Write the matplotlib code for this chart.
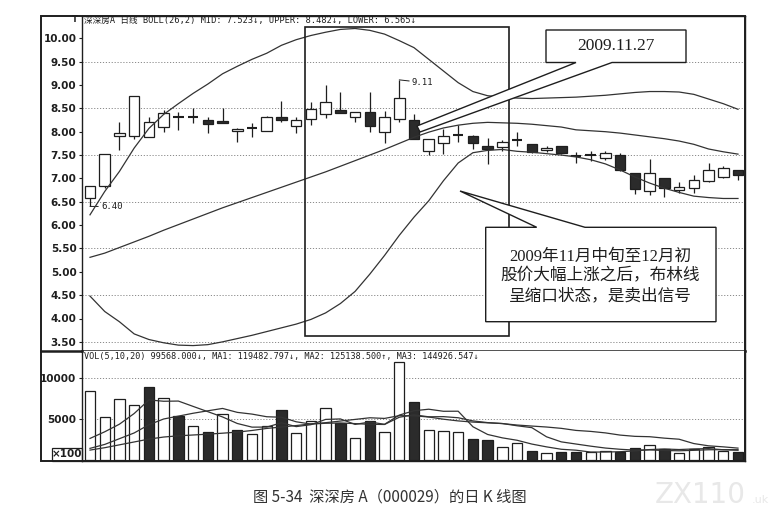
import matplotlib
matplotlib.use('Agg')
import matplotlib.pyplot as plt
from matplotlib.patches import Rectangle, Polygon
from matplotlib.lines import Line2D

# ---------------- data ----------------
opens  = [6.58, 6.84, 7.90, 7.91, 7.88, 8.11, 8.30, 8.31, 8.25, 8.23,
          8.02, 8.06, 8.02, 8.31, 8.12, 8.28, 8.37, 8.46, 8.31, 8.43,
          8.00, 8.27, 8.26, 7.59, 7.76, 7.93, 7.91, 7.70, 7.67, 7.81,
          7.73, 7.61, 7.69, 7.50, 7.49, 7.43, 7.50, 7.11, 6.73, 7.00,
          6.75, 6.79, 6.94, 7.04, 7.18]
highs  = [6.84, 7.52, 8.21, 8.76, 8.31, 8.47, 8.43, 8.50, 8.32, 8.50,
          8.07, 8.18, 8.33, 8.66, 8.32, 8.64, 9.00, 8.86, 8.43, 8.86,
          8.45, 9.11, 8.37, 7.85, 8.05, 8.14, 7.92, 7.86, 7.82, 8.00,
          7.74, 7.70, 7.70, 7.57, 7.59, 7.59, 7.54, 7.12, 7.41, 7.01,
          6.93, 7.07, 7.32, 7.27, 7.19]
lows   = [6.40, 6.79, 7.61, 7.84, 7.88, 8.00, 8.04, 8.19, 7.97, 8.18,
          7.79, 7.89, 8.01, 8.20, 7.97, 8.14, 8.30, 8.39, 8.20, 8.00,
          7.76, 8.21, 7.84, 7.50, 7.52, 7.79, 7.64, 7.31, 7.59, 7.69,
          7.55, 7.57, 7.53, 7.32, 7.38, 7.39, 7.16, 6.67, 6.64, 6.61,
          6.69, 6.68, 6.93, 7.00, 6.97]
closes = [6.83, 7.52, 7.98, 8.76, 8.20, 8.41, 8.31, 8.32, 8.17, 8.19,
          8.06, 8.07, 8.32, 8.24, 8.25, 8.48, 8.64, 8.41, 8.43, 8.12,
          8.31, 8.72, 7.84, 7.85, 7.91, 7.94, 7.76, 7.63, 7.78, 7.82,
          7.57, 7.66, 7.54, 7.49, 7.50, 7.54, 7.18, 6.77, 7.11, 6.79,
          6.82, 6.97, 7.17, 7.22, 7.07]
# volume in units of 100 shares
volumes = [8415, 5280, 7400, 6670, 8870, 7600, 5400, 4150, 3450, 5650,
           3620, 3170, 4180, 6060, 3330, 4800, 6380, 4470, 2720, 4800,
           3410, 11990, 7110, 3660, 3540, 3450, 2520, 2400, 1590, 2070,
           1140, 810, 940, 1020, 940, 1140, 1020, 1420, 1830, 1300,
           810, 1380, 1620, 1140, 996]
boll_upper = [6.22, 6.72, 7.15, 7.65, 8.07, 8.37, 8.60, 8.82, 9.02, 9.24,
              9.40, 9.55, 9.68, 9.85, 9.97, 10.06, 10.13, 10.19, 10.21, 10.17,
              10.09, 9.95, 9.80, 9.55, 9.30, 9.05, 8.86, 8.77, 8.74, 8.72,
              8.71, 8.72, 8.73, 8.74, 8.76, 8.78, 8.81, 8.84, 8.86, 8.86,
              8.85, 8.80, 8.70, 8.60, 8.48]
boll_mid = [5.31, 5.40, 5.52, 5.64, 5.76, 5.89, 6.01, 6.13, 6.25, 6.37,
            6.48, 6.59, 6.70, 6.81, 6.92, 7.03, 7.14, 7.26, 7.38, 7.50,
            7.62, 7.75, 7.88, 7.99, 8.08, 8.14, 8.18, 8.20, 8.19, 8.18,
            8.16, 8.13, 8.10, 8.04, 8.02, 8.00, 7.97, 7.93, 7.89, 7.85,
            7.80, 7.73, 7.63, 7.57, 7.52]
boll_lower = [4.48, 4.15, 3.93, 3.67, 3.55, 3.48, 3.43, 3.42, 3.44, 3.50,
              3.57, 3.64, 3.72, 3.80, 3.88, 3.98, 4.12, 4.32, 4.58, 4.95,
              5.35, 5.78, 6.17, 6.52, 6.95, 7.33, 7.55, 7.60, 7.62, 7.58,
              7.56, 7.53, 7.50, 7.46, 7.40, 7.31, 7.18, 7.03, 6.90, 6.79,
              6.70, 6.62, 6.59, 6.57, 6.57]
vol_ma5 = [2630, 3440, 4370, 5670, 7327, 7164, 7188, 6538, 5894, 5250,
           4454, 4008, 4014, 4536, 4072, 4308, 4950, 5008, 4340, 4634,
           4356, 5478, 6006, 6194, 5942, 5950, 4056, 3114, 2700, 2406,
           1944, 1602, 1310, 1196, 970, 970, 1012, 1108, 1270, 1342,
           1276, 1348, 1388, 1250, 1195]
vol_ma10 = [1420, 1900, 2600, 3300, 4300, 5000, 5350, 5700, 6000, 6289,
            5809, 5598, 5276, 5215, 4661, 4381, 4479, 4511, 4438, 4353,
            4332, 5214, 5507, 5267, 5288, 5153, 4767, 4560, 4447, 4174,
            3947, 2829, 2212, 1948, 1688, 1457, 1307, 1209, 1233, 1156,
            1123, 1180, 1248, 1260, 1251]
vol_ma20 = [1210, 1500, 1850, 2200, 2550, 2800, 2950, 3050, 3150, 3270,
            3400, 3600, 3850, 4020, 4200, 4400, 4550, 4750, 4950, 5150,
            5071, 5406, 5392, 5241, 4975, 4767, 4623, 4536, 4443, 4264,
            4140, 4022, 3860, 3608, 3488, 3305, 3037, 2885, 2840, 2665,
            2535, 2005, 1730, 1604, 1449]
price_ticks = [3.5, 4.0, 4.5, 5.0, 5.5, 6.0, 6.5, 7.0, 7.5, 8.0, 8.5, 9.0, 9.5, 10.0]
price_grid = [3.5, 4.5, 5.5, 6.5, 7.5, 8.5, 9.5]
vol_ticks = [5000, 10000]
price_header = "深深房A 日线 BOLL(26,2) MID: 7.523↓, UPPER: 8.482↓, LOWER: 6.565↓"
vol_header = "VOL(5,10,20) 99568.000↓, MA1: 119482.797↓, MA2: 125138.500↑, MA3: 144926.547↓"
callout1 = "2009.11.27"
callout2 = ["2009年11月中旬至12月初", "股价大幅上涨之后，布林线", "呈缩口状态，是卖出信号"]
caption = "图 5-34  深深房 A（000029）的日 K 线图"
high_label = "9.11"
low_label = "6.40"

# ---------------- layout helpers (pixel geometry) ----------------
W, H = 778, 522
INK = '#1e1e1e'
DARK = '#2b2b2b'
LINE = '#333333'
GRID = '#8a8a8a'

def fx(px):
    return px / W

def fy(py):
    return 1 - py / H

def px2x(px):
    return (px - 90) / 14.727

def py2p(py):
    return 10 - (py - 38.3) / 46.7

def py2v(py):
    return (460 - py) / 41 * 5000

fig = plt.figure(figsize=(W / 100, H / 100), dpi=100)
fig.patch.set_facecolor('white')

L, R = 82, 745
TP, BP = 16, 351
TV, BV = 351, 461
axp = fig.add_axes([fx(L), fy(BP), (R - L) / W, (BP - TP) / H])
axv = fig.add_axes([fx(L), fy(BV), (R - L) / W, (BV - TV) / H])

n = len(closes)
xs = list(range(n))
bw = 0.72

for ax in (axp, axv):
    ax.set_xlim(px2x(L), px2x(R))
    ax.set_xticks([])
    for s in ax.spines.values():
        s.set_color(INK)
        s.set_linewidth(1.0)
    ax.tick_params(axis='y', length=2.5, width=0.8, pad=1.5, colors=INK, labelsize=7.5)
axp.spines['bottom'].set_linewidth(1.8)
axv.spines['top'].set_visible(False)

axp.set_ylim(py2p(BP), py2p(TP))
axv.set_ylim(py2v(BV), py2v(TV))

# grid
for g in price_grid:
    axp.axhline(g, color=GRID, lw=0.7, ls=(0, (1.2, 1.8)), zorder=1)
for g in vol_ticks:
    axv.axhline(g, color=GRID, lw=0.7, ls=(0, (1.2, 1.8)), zorder=1)

# ticks
axp.set_yticks(price_ticks)
axp.set_yticklabels([f"{t:.2f}" for t in price_ticks], fontweight='bold')
axv.set_yticks(vol_ticks)
axv.set_yticklabels([str(t) for t in vol_ticks], fontweight='bold')

# candles
for i in xs:
    o, h, l, c = opens[i], highs[i], lows[i], closes[i]
    axp.vlines(i, l, h, color=INK, lw=0.9, zorder=2)
    if abs(c - o) < 0.015:
        axp.hlines(c, i - bw / 2, i + bw / 2, color=INK, lw=1.5, zorder=3)
    else:
        up = c >= o
        axp.add_patch(Rectangle((i - bw / 2, min(o, c)), bw, abs(c - o),
                                facecolor='white' if up else DARK,
                                edgecolor=INK, lw=0.9, zorder=3))

# Bollinger lines
for series in (boll_upper, boll_mid, boll_lower):
    axp.plot(xs, series, color=LINE, lw=0.9, zorder=4)

# volume bars (colour by close vs previous close)
vcols = ['white' if (i == 0 or closes[i] >= closes[i - 1]) else DARK for i in xs]
axv.bar(xs, volumes, width=0.7, color=vcols, edgecolor=INK, linewidth=0.9, zorder=2)
for series in (vol_ma5, vol_ma10, vol_ma20):
    axv.plot(xs, series, color=LINE, lw=0.9, zorder=4)

# headers
mono = ['DejaVu Sans Mono', 'Noto Sans CJK SC']
axp.text(px2x(84), py2p(20), price_header, fontsize=6.2, family=mono,
         color=INK, ha='left', va='center', zorder=6)
axv.text(px2x(84), py2v(357), vol_header, fontsize=6.1, family=mono,
         color=INK, ha='left', va='center', zorder=6)

# high / low labels
axp.annotate(high_label, xy=(21, 9.11), xytext=(px2x(412), py2p(82.5)),
             fontsize=6.5, family='DejaVu Sans Mono', color=INK, va='center', ha='left',
             arrowprops=dict(arrowstyle='-', lw=0.7, color=INK, shrinkA=0, shrinkB=0))
axp.annotate(low_label, xy=(0, 6.40), xytext=(px2x(101), py2p(206.5)),
             fontsize=6.5, family='DejaVu Sans Mono', color=INK, va='center', ha='left',
             arrowprops=dict(arrowstyle='-', lw=0.7, color=INK, shrinkA=0, shrinkB=0))

# highlight rectangle
axp.add_patch(Rectangle((px2x(305), py2p(336)), px2x(509.3) - px2x(305),
                        py2p(26.7) - py2p(336), fill=False, edgecolor=INK,
                        lw=1.2, zorder=5))

# callout 1 (box + wedge)
c1 = [(546, 30), (686, 30), (686, 62.5), (612, 62.5), (420, 132), (417, 126),
      (576, 62.5), (546, 62.5)]
axp.add_patch(Polygon([(px2x(a), py2p(b)) for a, b in c1], closed=True,
                      facecolor='white', edgecolor=INK, lw=1.0, zorder=7, clip_on=False))
axp.text(px2x(616), py2p(46.5), callout1, fontsize=12.5, family='Liberation Serif',
         color=INK, ha='center', va='center', zorder=8)

# callout 2
c2 = [(485.7, 227.3), (536.7, 227.3), (460, 191), (585, 227.3), (716, 227.3),
      (716, 321.7), (485.7, 321.7)]
axp.add_patch(Polygon([(px2x(a), py2p(b)) for a, b in c2], closed=True,
                      facecolor='white', edgecolor=INK, lw=1.0, zorder=7, clip_on=False))
serif_cjk = ['Liberation Serif', 'Noto Sans CJK SC']
for txt, yy in zip(callout2, (257.3, 276.7, 296.7)):
    axp.text(px2x(600.5), py2p(yy), txt, fontsize=12, family=serif_cjk,
             color=INK, ha='center', va='center', zorder=8)

# outer frame and label column separators
fig.add_artist(Rectangle((fx(41), fy(BV)), (R - 41) / W, (BV - TP) / H, fill=False,
                         edgecolor=INK, lw=1.4, transform=fig.transFigure))
fig.add_artist(Line2D([fx(41), fx(L)], [fy(BP), fy(BP)], color=INK, lw=1.8,
                      transform=fig.transFigure))
fig.text(fx(75), fy(20), "T", fontsize=6, fontweight='bold', color=INK,
         ha='center', va='center')
fig.add_artist(Rectangle((fx(52), fy(460.5)), 30 / W, 13 / H, fill=False,
                         edgecolor=INK, lw=0.9, transform=fig.transFigure))
fig.text(fx(67), fy(454), "×100", fontsize=7.5, fontweight='bold', color=INK,
         ha='center', va='center')

# caption & watermark
fig.text(fx(390), fy(497), caption, fontsize=11, family=['Noto Sans CJK SC', 'DejaVu Sans'],
         color='#333333', ha='center', va='center')
fig.text(fx(700), fy(495), "ZX110", fontsize=20, color='#e8e8e8', ha='center',
         va='center', family='DejaVu Sans')
fig.text(fx(752), fy(500), ".uk", fontsize=8, color='#e8e8e8', ha='left',
         va='center', family='DejaVu Sans')

fig.savefig('out.png', dpi=100, facecolor='white')
